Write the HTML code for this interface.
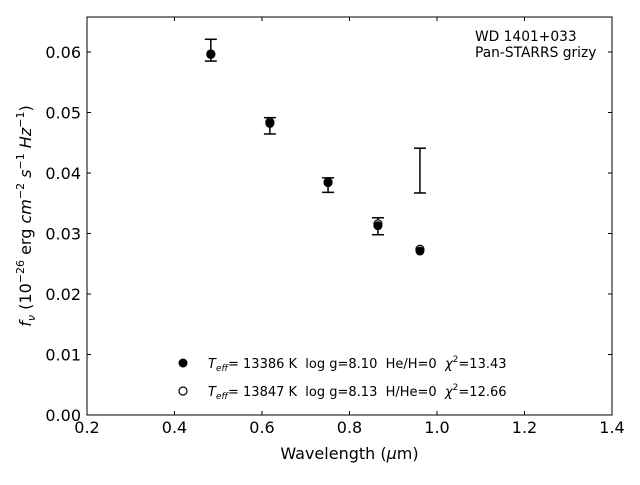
<!DOCTYPE html>
<html><head><meta charset="utf-8"><style>
body{margin:0;background:#fff;}
svg{font-family:"DejaVu Sans","Liberation Sans",sans-serif;}
svg text{white-space:pre;}
</style></head><body>
<svg id="chart" width="640" height="480" xmlns="http://www.w3.org/2000/svg" xml:space="preserve">
<rect x="87" y="17" width="525" height="398" fill="#fff" stroke="#000" stroke-width="1"/>
<g id="ticks"></g>
<g id="marks"></g>
<text x="349.5" y="459" font-size="16" text-anchor="middle">Wavelength (<tspan font-style="italic">μ</tspan>m)</text>
<text transform="translate(31,216) rotate(-90)" font-size="16" text-anchor="middle"><tspan font-style="italic">f</tspan><tspan font-style="italic" font-size="11" dy="4">ν</tspan><tspan dy="-4"> (10</tspan><tspan font-size="11" dy="-7">−26</tspan><tspan dy="7"> erg </tspan><tspan font-style="italic">cm</tspan><tspan font-size="11" dy="-7">−2</tspan><tspan dy="7" font-style="italic"> s</tspan><tspan font-size="11" dy="-7">−1</tspan><tspan dy="7" font-style="italic"> Hz</tspan><tspan font-size="11" dy="-7">−1</tspan><tspan dy="7">)</tspan></text>
<text x="475" y="41" font-size="13.8">WD 1401+033</text>
<text x="475" y="57" font-size="13.8">Pan-STARRS grizy</text>
<g font-size="13">
<circle cx="183" cy="363" r="4.5" fill="#000"/>
<text x="208" y="368"><tspan font-style="italic">T</tspan><tspan font-style="italic" font-size="9" dy="3">eff</tspan><tspan dy="-3">= 13386 K  log g=8.10  He/H=0  </tspan><tspan font-style="italic">χ</tspan><tspan font-size="9" dy="-6">2</tspan><tspan dy="6">=13.43</tspan></text>
<circle cx="183" cy="391" r="4" fill="#fff" stroke="#000" stroke-width="1.2"/>
<text x="208" y="396"><tspan font-style="italic">T</tspan><tspan font-style="italic" font-size="9" dy="3">eff</tspan><tspan dy="-3">= 13847 K  log g=8.13  H/He=0  </tspan><tspan font-style="italic">χ</tspan><tspan font-size="9" dy="-6">2</tspan><tspan dy="6">=12.66</tspan></text>
</g>
</svg>
<script>
const wavelengths=[0.483,0.618,0.751,0.865,0.961];
const obsFlux=[0.0603,0.0478,0.0380,0.0312,0.0404];
const obsErr=[0.0018,0.00135,0.0012,0.0014,0.0037];
const modelHe=[0.0597,0.0482,0.0384,0.0313,0.0271];
const modelH=[0.0596,0.0484,0.0385,0.0316,0.0274];
const xTicks=[0.2,0.4,0.6,0.8,1.0,1.2,1.4];
const yTicks=[0,0.01,0.02,0.03,0.04,0.05,0.06];
const xTickLabels=["0.2","0.4","0.6","0.8","1.0","1.2","1.4"];
const yTickLabels=["0.00","0.01","0.02","0.03","0.04","0.05","0.06"];
const NS="http://www.w3.org/2000/svg";
function X(v){return 87+(v-0.2)*437.5;}
function Y(v){return 415-v*6050;}
function mk(tag,attrs,parent){const e=document.createElementNS(NS,tag);for(const k in attrs)e.setAttribute(k,attrs[k]);parent.appendChild(e);return e;}
const tg=document.getElementById('ticks');
xTicks.forEach((t,i)=>{
 const x=X(t);
 let l=mk('line',{x1:x,x2:x,y1:415,y2:411,stroke:'#000'},tg);
 
 
 l=mk('line',{x1:x,x2:x,y1:17,y2:21,stroke:'#000'},tg);
 
 
 const tx=mk('text',{x:x,y:433,'font-size':16,'text-anchor':'middle'},tg);
 tx.textContent=xTickLabels[i];
 
 
});
yTicks.forEach((t,i)=>{
 const y=Y(t);
 let l=mk('line',{x1:87,x2:91,y1:y,y2:y,stroke:'#000'},tg);
 
 
 l=mk('line',{x1:608,x2:612,y1:y,y2:y,stroke:'#000'},tg);
 
 
 const tx=mk('text',{x:81,y:y+6,'font-size':16,'text-anchor':'end'},tg);
 tx.textContent=yTickLabels[i];
 
 
});
const mg=document.getElementById('marks');
wavelengths.forEach((w,i)=>{
 const x=X(w),y1=Y(obsFlux[i]+obsErr[i]),y2=Y(obsFlux[i]-obsErr[i]);
 const g=mk('g',{stroke:'#000','stroke-width':1.5},mg);
 
 
 mk('line',{x1:x,x2:x,y1:y1,y2:y2},g);
 mk('line',{x1:x-6,x2:x+6,y1:y1,y2:y1},g);
 mk('line',{x1:x-6,x2:x+6,y1:y2,y2:y2},g);
 const o=mk('circle',{cx:x,cy:Y(modelH[i]),r:4,fill:'#fff',stroke:'#000','stroke-width':1.2},mg);
 
 
 const f=mk('circle',{cx:x,cy:Y(modelHe[i]),r:4.5,fill:'#000'},mg);
 
 
});
</script>
</body></html>
